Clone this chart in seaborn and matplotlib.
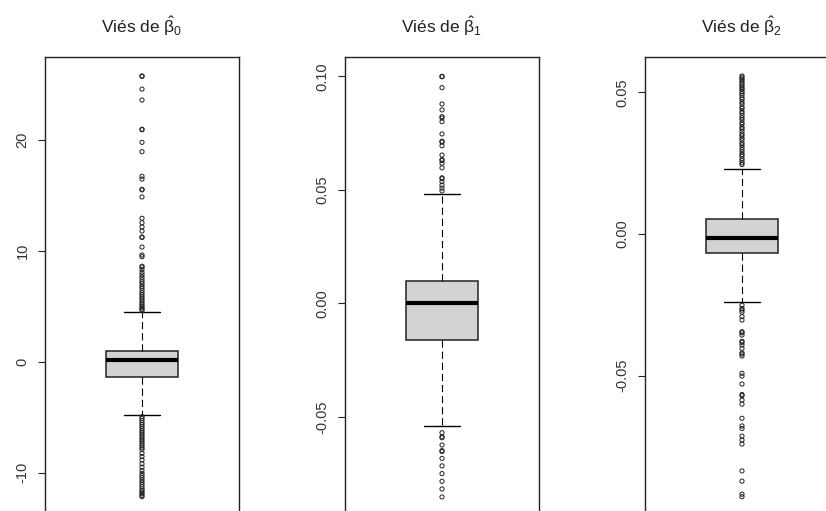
import numpy as np
import pandas as pd
import matplotlib
matplotlib.use("Agg")
import matplotlib.pyplot as plt
import seaborn as sns

# ---------------- data ----------------
titles = [r"Viés de $\hat{\beta}_0$", r"Viés de $\hat{\beta}_1$", r"Viés de $\hat{\beta}_2$"]

# five-number summaries: lower whisker, Q1, median, Q3, upper whisker
stats_b0 = [-4.83, -1.38, 0.13, 0.96, 4.50]
stats_b1 = [-0.054, -0.0163, 0.0, 0.0098, 0.048]
stats_b2 = [-0.024, -0.0066, -0.0013, 0.0054, 0.0229]

out_b0 = [25.74, 25.70, 24.56, 23.57, 20.94, 20.90, 19.76, 18.92, 16.70, 16.45,
          15.53, 15.48, 14.84, 12.92, 12.52, 12.14, 11.77, 11.23, 11.19, 10.33,
          9.61, 9.46, 8.60, 8.52, 8.30, 8.05, 7.82, 7.60, 7.40, 7.20, 7.02, 6.80,
          6.62, 6.41, 6.20, 6.02, 5.84, 5.66, 5.48, 5.30, 5.15, 5.00, 4.85, 4.72,
          4.62,
          -4.95, -5.12, -5.30, -5.48, -5.65, -5.82, -6.00, -6.18, -6.35, -6.52,
          -6.70, -6.88, -7.05, -7.22, -7.40, -7.58, -7.75, -7.92, -8.25, -8.55,
          -8.85, -9.20, -9.50, -9.80, -10.05, -10.25, -10.45, -10.65, -10.85,
          -11.05, -11.25, -11.45, -11.60, -11.75, -11.90, -12.05, -12.16]
out_b1 = [0.1000, 0.0998, 0.0950, 0.0878, 0.0852, 0.0822, 0.0816, 0.0800, 0.0746,
          0.0714, 0.0710, 0.0694, 0.0653, 0.0633, 0.0629, 0.0617, 0.0597, 0.0553,
          0.0549, 0.0536, 0.0521, 0.0507, 0.0495,
          -0.0570, -0.0588, -0.0592, -0.0624, -0.0649, -0.0653, -0.0683, -0.0716,
          -0.0750, -0.0784, -0.0818, -0.0853]
out_b2 = [0.0558, 0.0553, 0.0547, 0.0541, 0.0534, 0.0529, 0.0522, 0.0515, 0.0511,
          0.0503, 0.0497, 0.0490, 0.0481, 0.0475, 0.0466, 0.0459, 0.0449, 0.0443,
          0.0433, 0.0427, 0.0418, 0.0410, 0.0403, 0.0393, 0.0387, 0.0377, 0.0371,
          0.0362, 0.0353, 0.0347, 0.0338, 0.0331, 0.0321, 0.0315, 0.0306, 0.0298,
          0.0290, 0.0281, 0.0275, 0.0266, 0.0259, 0.0251, 0.0245,
          -0.0252, -0.0263, -0.0269, -0.0276, -0.0292, -0.0304, -0.0345, -0.0349,
          -0.0357, -0.0379, -0.0383, -0.0392, -0.0404, -0.0420, -0.0424, -0.0431,
          -0.0492, -0.0502, -0.0530, -0.0567, -0.0571, -0.0587, -0.0601, -0.0651,
          -0.0678, -0.0687, -0.0714, -0.0728, -0.0742, -0.0837, -0.0873, -0.0919,
          -0.0928]

ticks_b0 = [-10, 0, 10, 20]
ticklabels_b0 = ["-10", "0", "10", "20"]
ticks_b1 = [-0.05, 0.0, 0.05, 0.10]
ticklabels_b1 = ["-0.05", "0.00", "0.05", "0.10"]
ticks_b2 = [-0.05, 0.0, 0.05]
ticklabels_b2 = ["-0.05", "0.00", "0.05"]

# ---------------- style ----------------
sns.set_style("white")
plt.rcParams["font.family"] = ["Liberation Sans", "DejaVu Sans"]
plt.rcParams["mathtext.fontset"] = "custom"
plt.rcParams["mathtext.rm"] = "Liberation Sans"
plt.rcParams["mathtext.it"] = "Liberation Sans"
plt.rcParams["mathtext.bf"] = "Liberation Sans:bold"

W, H = 826, 511
fig = plt.figure(figsize=(W / 100, H / 100), dpi=100)

panels = [
    (45, stats_b0, out_b0, ticks_b0, ticklabels_b0, (-13.72, 27.45)),
    (345, stats_b1, out_b1, ticks_b1, ticklabels_b1, (-0.0928, 0.1085)),
    (645, stats_b2, out_b2, ticks_b2, ticklabels_b2, (-0.0989, 0.0625)),
]

ax_w, ax_top, ax_bot = 194, 57, 514
for i, (left, stats, outs, ticks, tlabels, ylim) in enumerate(panels):
    ax = fig.add_axes([left / W, (H - ax_bot) / H, ax_w / W, (ax_bot - ax_top) / H])
    core = pd.DataFrame({"v": stats})
    sns.boxplot(data=core, y="v", whis=(0, 100), width=0.4, color="#D3D3D3",
                saturation=1, linecolor="black", linewidth=1.1, showfliers=False,
                medianprops=dict(linewidth=3.0, color="black", solid_capstyle="butt"),
                whiskerprops=dict(linestyle=(0, (6.5, 3.5)), linewidth=0.8),
                capprops=dict(linewidth=1.0),
                boxprops=dict(edgecolor="#222222"),
                ax=ax)
    sns.scatterplot(x=[0] * len(outs), y=outs, marker="o", s=9,
                    facecolor="none", edgecolor="#222222", linewidth=0.7, ax=ax,
                    zorder=5)
    ax.set_xlim(-0.54, 0.54)
    ax.set_ylim(*ylim)
    ax.set_xticks([])
    ax.set_yticks(ticks)
    ax.set_yticklabels(tlabels)
    ax.set_xlabel("")
    ax.set_ylabel("")
    ax.tick_params(axis="y", left=True, length=5, width=0.8, pad=6,
                   labelsize=10.5, labelrotation=90, colors="#222222",
                   labelcolor="#333333")
    for lab in ax.get_yticklabels():
        lab.set_va("center")
    for sp in ax.spines.values():
        sp.set_visible(True)
        sp.set_color("#222222")
        sp.set_linewidth(1.0)
    ax.set_title(titles[i], fontsize=12.5, pad=17, color="#222222")

fig.savefig("out.png", dpi=100)
